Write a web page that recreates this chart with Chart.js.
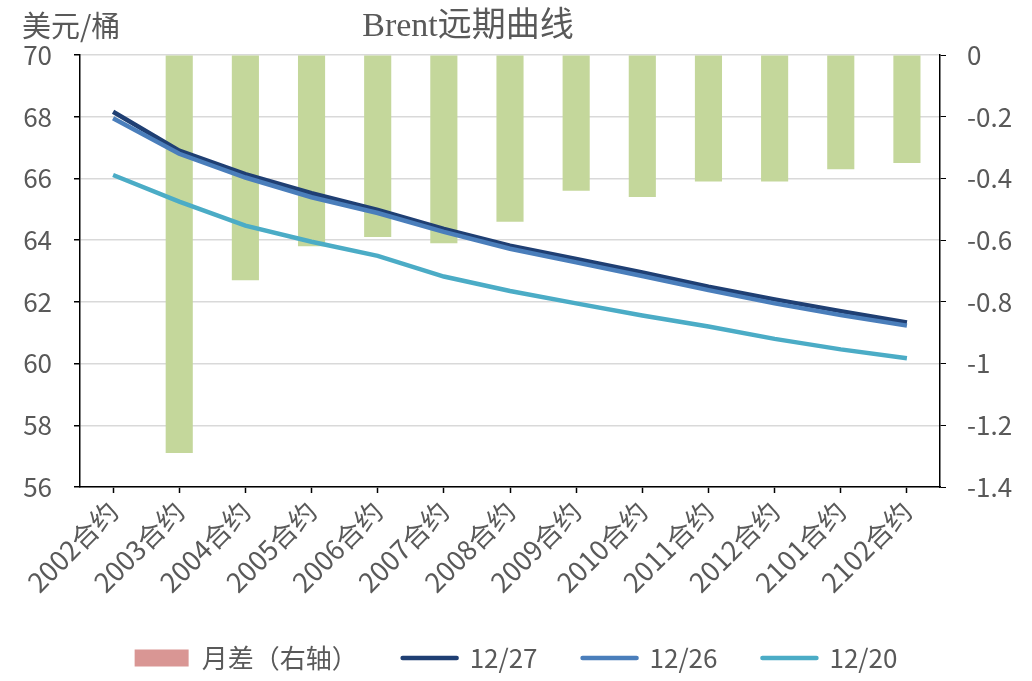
<!DOCTYPE html>
<html lang="zh">
<head>
  <meta charset="UTF-8" />
  <title>Brent远期曲线</title>
  <script src="https://cdn.jsdelivr.net/npm/chart.js"></script>
  <style>
    html, body { margin: 0; padding: 0; background: #fff; }
    #wrap { width: 1032px; height: 681px; }
  </style>
</head>
<body>
  <div id="wrap"><canvas id="brentChart"></canvas></div>

  <script>
    const contracts = ['2002合约', '2003合约', '2004合约', '2005合约', '2006合约', '2007合约', '2008合约',
                       '2009合约', '2010合约', '2011合约', '2012合约', '2101合约', '2102合约'];
    const spread = [null, -1.29, -0.73, -0.62, -0.59, -0.61, -0.54, -0.44, -0.46, -0.41, -0.41, -0.37, -0.35];
    const curve1227 = [68.16, 66.90, 66.14, 65.52, 64.98, 64.36, 63.82, 63.39, 62.95, 62.49, 62.08, 61.70, 61.33];
    const curve1226 = [67.95, 66.80, 66.03, 65.39, 64.88, 64.27, 63.72, 63.28, 62.84, 62.38, 61.95, 61.57, 61.23];
    const curve1220 = [66.11, 65.25, 64.47, 63.95, 63.49, 62.82, 62.35, 61.95, 61.56, 61.20, 60.80, 60.46, 60.17];

    const textColor = '#595959';
    const sansFont = '"Liberation Sans Narrow", "Noto Sans CJK SC", sans-serif';

    // title and unit label drawn on the canvas
    const headerText = {
      id: 'headerText',
      afterDraw(chart) {
        const ctx = chart.ctx;
        ctx.save();
        ctx.fillStyle = textColor;
        ctx.textBaseline = 'middle';
        ctx.textAlign = 'left';
        ctx.font = '29px ' + sansFont;
        ctx.fillText('美元/桶', 22, 26);
        ctx.textAlign = 'center';
        ctx.font = '34px "Liberation Serif", "Noto Sans CJK SC", serif';
        ctx.fillText('Brent远期曲线', 468, 27);
        ctx.restore();
      }
    };

    const ctx = document.getElementById('brentChart').getContext('2d');
    const chart = new Chart(ctx, {
      type: 'bar',
      data: {
        labels: contracts,
        datasets: [
          { type: 'bar', label: '月差（右轴）', data: spread, yAxisID: 'y1', backgroundColor: '#C4D79B',
            barPercentage: 0.41, categoryPercentage: 1, order: 10 },
          { type: 'line', label: '12/27', data: curve1227, yAxisID: 'y', borderColor: '#1F3F73',
            borderWidth: 4.5, pointRadius: 0, tension: 0, order: 2 },
          { type: 'line', label: '12/26', data: curve1226, yAxisID: 'y', borderColor: '#4A7EBB',
            borderWidth: 4.5, pointRadius: 0, tension: 0, order: 1 },
          { type: 'line', label: '12/20', data: curve1220, yAxisID: 'y', borderColor: '#4BACC6',
            borderWidth: 4.5, pointRadius: 0, tension: 0, order: 3 }
        ]
      },
      options: {
        responsive: true,
        maintainAspectRatio: false,
        animation: false,
        layout: { padding: { top: 55, left: 0, right: 0, bottom: 0 } },
        plugins: {
          title: { display: false },
          tooltip: { enabled: false },
          legend: {
            position: 'bottom',
            labels: {
              color: textColor,
              font: { size: 26, family: sansFont },
              padding: 45,
              usePointStyle: true,
              pointStyleWidth: 54,
              boxHeight: 17,
              generateLabels(chart) {
                return chart.data.datasets.map((ds, i) => ({
                  text: ds.label,
                  datasetIndex: i,
                  fillStyle: i === 0 ? '#D99694' : ds.borderColor,
                  strokeStyle: i === 0 ? '#D99694' : ds.borderColor,
                  lineWidth: i === 0 ? 0 : 4.5,
                  lineCap: 'round',
                  pointStyle: i === 0 ? 'rect' : 'line',
                  fontColor: textColor,
                  hidden: false
                }));
              }
            }
          }
        },
        scales: {
          x: {
            offset: true,
            afterFit(scale) { scale.height = 113; },
            border: { color: '#000', width: 1.5 },
            grid: { drawOnChartArea: false, offset: false, tickLength: 6, tickColor: '#000', tickWidth: 1.5 },
            ticks: { color: textColor, font: { size: 27, family: sansFont }, minRotation: 45, maxRotation: 45, padding: 2, autoSkip: false }
          },
          y: {
            position: 'left',
            min: 56, max: 70,
            afterFit(scale) { scale.width = 80; },
            border: { color: '#000', width: 1.5 },
            grid: { color: '#D9D9D9', lineWidth: 1.5, tickLength: 6, tickColor: '#000' },
            ticks: { stepSize: 2, color: textColor, font: { size: 26, family: sansFont }, padding: 22 }
          },
          y1: {
            position: 'right',
            min: -1.4, max: 0,
            afterFit(scale) { scale.width = 92; },
            border: { color: '#000', width: 1.5 },
            grid: { drawOnChartArea: false, tickLength: 6, tickColor: '#000' },
            ticks: { stepSize: 0.2, color: textColor, font: { size: 26, family: sansFont }, padding: 21,
              callback: v => Math.round(v * 10) / 10 }
          }
        }
      },
      plugins: [headerText]
    });
  </script>
</body>
</html>
